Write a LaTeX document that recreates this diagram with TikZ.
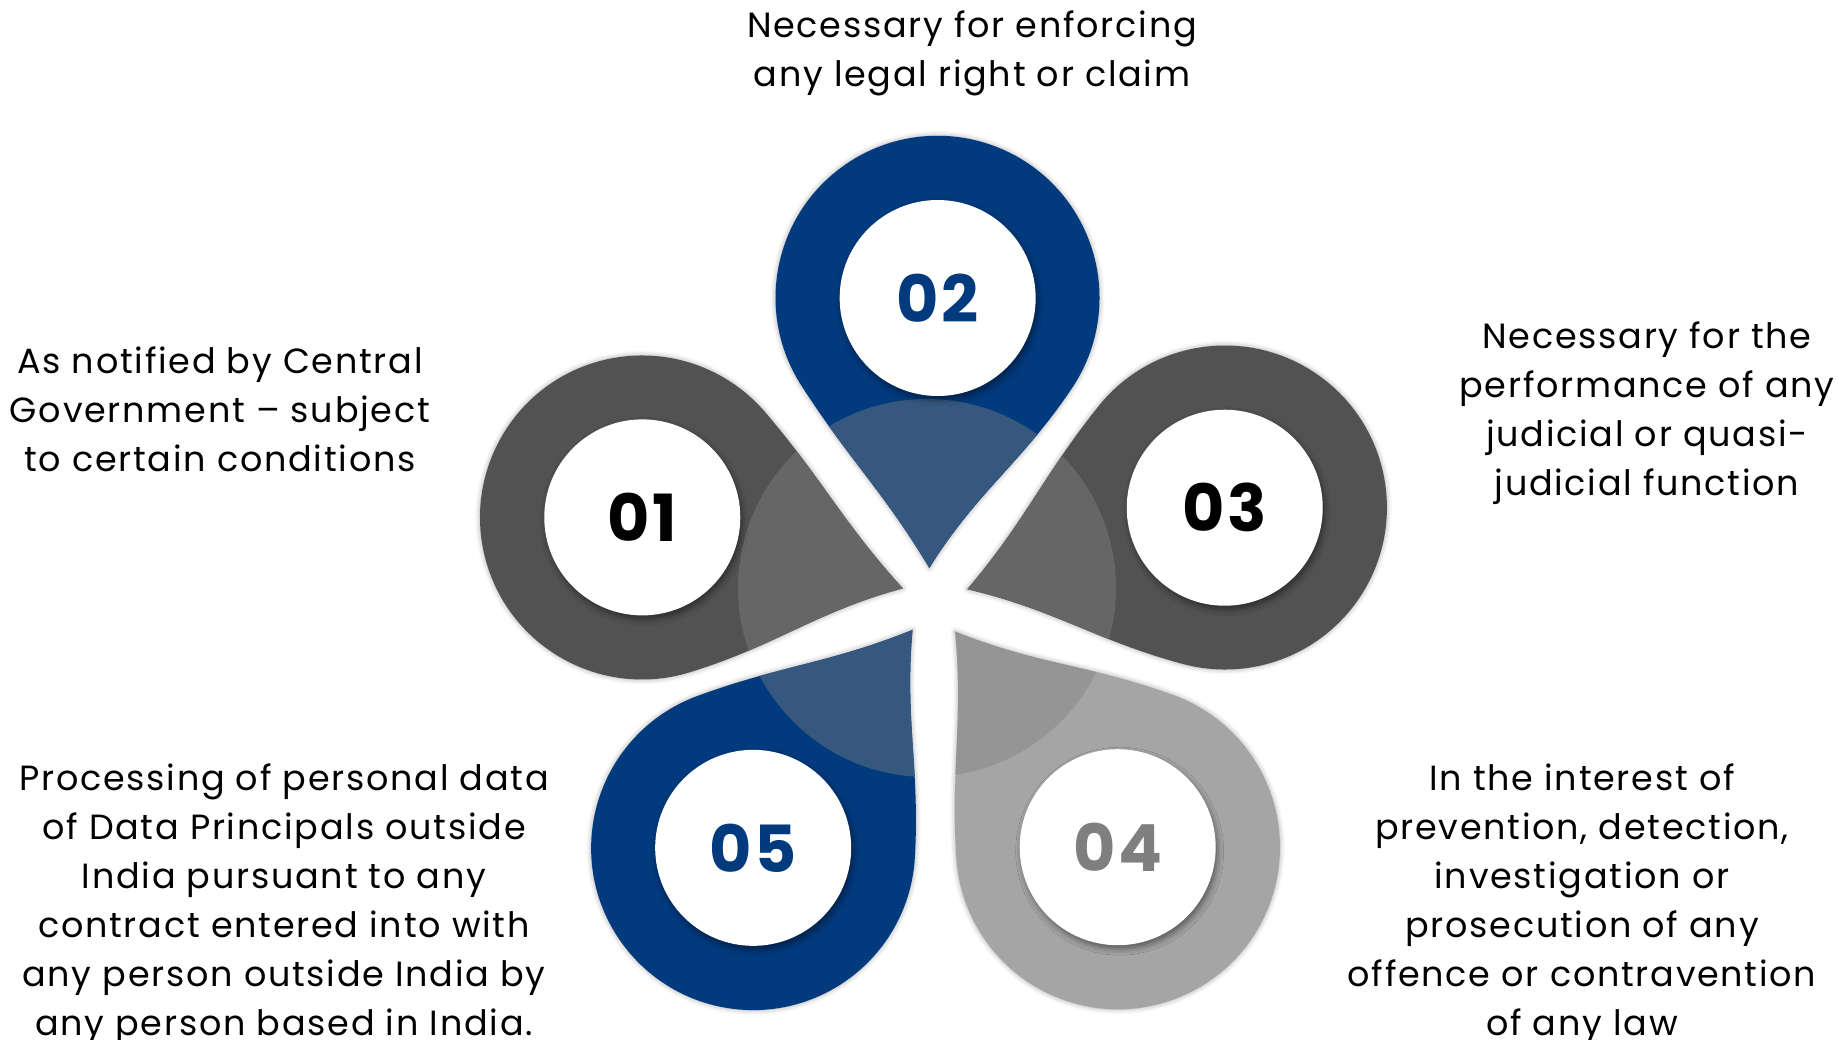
\documentclass[tikz,border=0pt]{standalone}
\usepackage{fontspec}
\setmainfont{Poppins}
\newfontfamily\infofont[LetterSpace=5]{Poppins}
\newfontfamily\numfont[LetterSpace=4]{Poppins}
\usetikzlibrary{shadows.blur}

\definecolor{petalblue}{HTML}{023A7E}
\definecolor{petaldark}{HTML}{525252}
\definecolor{petallight}{HTML}{A5A5A5}
\definecolor{ovblue}{HTML}{36587F}
\definecolor{ovdark}{HTML}{666666}
\definecolor{ovlight}{HTML}{959595}
\definecolor{numgray}{HTML}{7F7F7F}

% one petal, seen along its own axis (tip near the middle)
\newcommand{\petal}[1]{(35,#1) .. controls +(77,47) and +(-75,-49) .. (217,136)
  arc[start angle=123, end angle=-123, radius=162]
  .. controls +(-75,49) and +(77,-47) .. (35,#1) -- cycle}

\tikzset{
  petalshade/.style={blur shadow={shadow xshift=0pt, shadow yshift=0pt, shadow blur radius=5pt, shadow opacity=35}},
  numdisc/.style={circle, fill=white, minimum size=196pt, inner sep=0pt,
    font=\numfont\fontsize{65}{65}\selectfont\bfseries,
    blur shadow={shadow xshift=2pt, shadow yshift=-4pt, shadow blur radius=6pt, shadow opacity=45}},
  info/.style={align=center, font=\infofont\fontsize{35}{49}\selectfont, text=black},
}

\begin{document}
\begin{tikzpicture}[x=1pt, y=1pt]
\useasboundingbox (0,0) rectangle (1839,1040);

\coordinate (O) at (935,437);
\coordinate (ctr) at (927,452);

% Petalos
\foreach \a/\ty/\fc/\oc in {89.5/6/petalblue/ovblue, 163.7/-5/petaldark/ovdark,
    18.2/3/petaldark/ovdark, -53.2/-1/petallight/ovlight, -126.6/-2/petalblue/ovblue}{
  \begin{scope}[shift={(O)}, rotate=\a]
    \fill[\fc, petalshade] \petal{\ty};
    \begin{scope}
      \clip \petal{\ty};
      \fill[\oc] (ctr) circle[radius=189];
    \end{scope}
  \end{scope}
}

% Numeros
\begin{scope}[shift={(O)}]
  \node[numdisc, text=black] (n01) at (163.7:305) {01};
  \node[numdisc, text=petalblue] (n02) at (89.5:305) {02};
  \node[numdisc, text=black] (n03) at (18.2:305) {03};
  \node[numdisc, text=numgray] (n04) at (-53.2:305) {04};
  \node[numdisc, text=petalblue] (n05) at (-126.6:305) {05};
\end{scope}

% Textos
\node[info] (t01) at (220,631) {As notified by Central\\Government – subject\\to certain conditions};
\node[info] (t02) at (972,987) {Necessary for enforcing\\any legal right or claim};
\node[info] (t03) at (1647,627) {Necessary for the\\performance of any\\judicial or quasi-\\judicial function};
\node[info] (t04) at (1582,135.5) {In the interest of\\prevention, detection,\\investigation or\\prosecution of any\\offence or contravention\\of any law};
\node[info] (t05) at (284,135.5) {Processing of personal data\\of Data Principals outside\\India pursuant to any\\contract entered into with\\any person outside India by\\any person based in India.};

\end{tikzpicture}
\end{document}
